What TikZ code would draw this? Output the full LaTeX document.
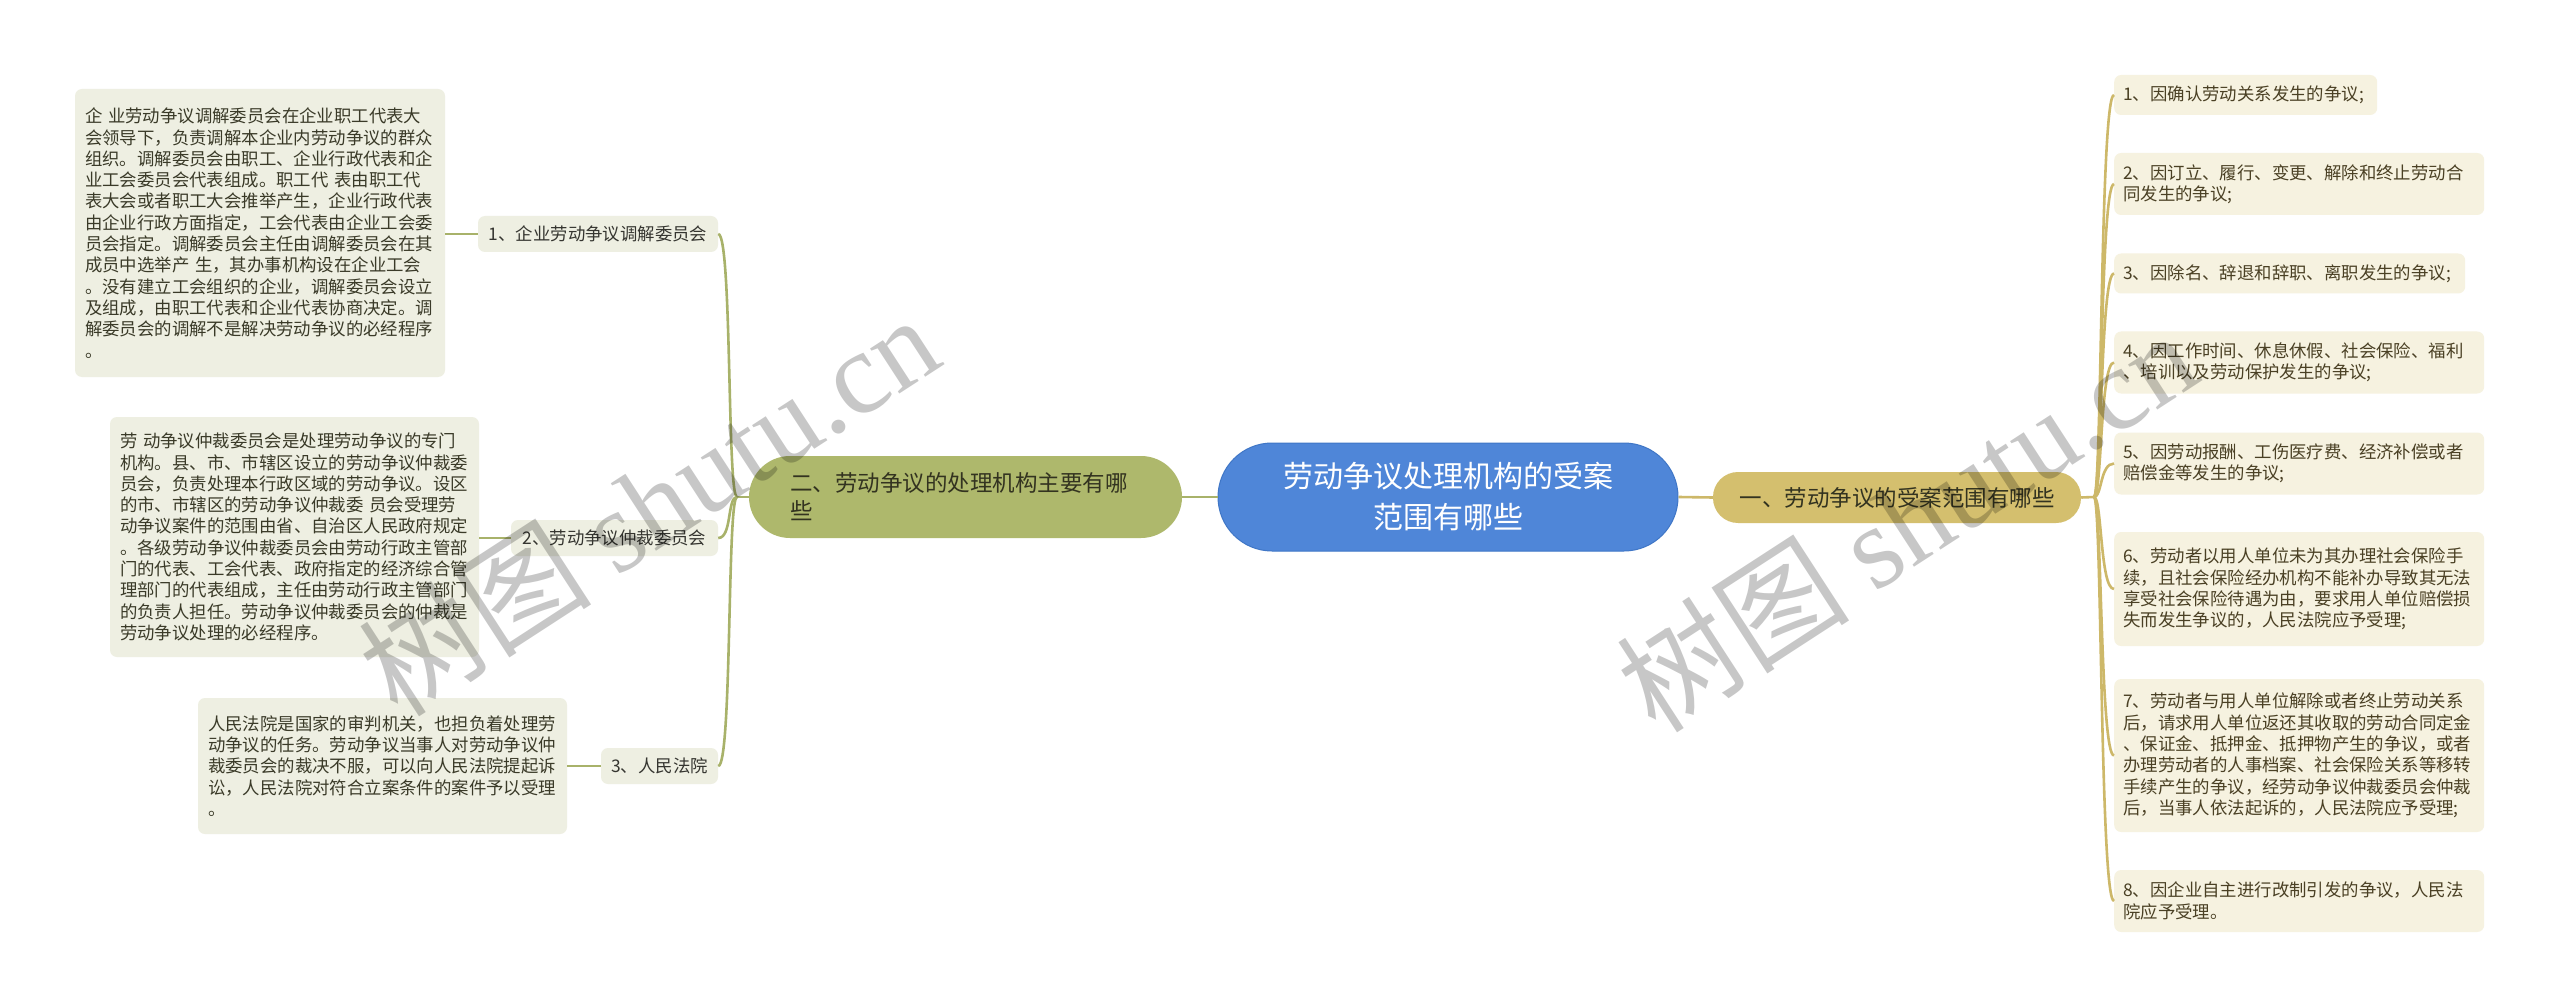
\documentclass[tikz,border=0pt]{standalone}
\usepackage{fontspec}
\setmainfont{Noto Sans CJK SC}
\newfontfamily\wmlat{Liberation Serif}
\definecolor{cblue}{HTML}{4F86D8}
\definecolor{cblueb}{HTML}{3F76C6}
\definecolor{colive}{HTML}{AEB86C}
\definecolor{cgold}{HTML}{D4BF6E}
\definecolor{lineL}{HTML}{A8B26A}
\definecolor{lineR}{HTML}{CDB869}
\definecolor{fillL}{HTML}{EEEFE2}
\definecolor{fillR}{HTML}{F6F2E0}
\definecolor{txtL}{HTML}{3A3A28}
\definecolor{txtR}{HTML}{4A4024}
\definecolor{txtM}{HTML}{333320}
\definecolor{txtS}{HTML}{353530}
\tikzset{
  central/.style={fill=cblue, draw=cblueb, line width=1pt, text=white, rounded corners=54pt, minimum width=460pt, minimum height=108pt, align=center, inner sep=0pt, font=\fontsize{30}{41}\selectfont},
  mainL/.style={fill=colive, text=txtM, rounded corners=41pt, minimum height=82pt, text width=351pt, inner xsep=41pt, inner ysep=0pt, align=left, font=\fontsize{22.5}{28}\selectfont},
  mainR/.style={fill=cgold, text=txtM, rounded corners=25pt, minimum width=368pt, minimum height=51pt, inner sep=0pt, align=center, font=\fontsize{22.5}{28}\selectfont},
  subL/.style={fill=fillL, text=txtS, rounded corners=7pt, minimum height=36pt, inner sep=0pt, align=center, font=\fontsize{17.4}{21.3}\selectfont},
  leafL/.style={fill=fillL, text=txtL, rounded corners=7pt, inner xsep=10pt, inner ysep=0pt, align=left, font=\fontsize{17.4}{21.3}\selectfont},
  leafR/.style={fill=fillR, text=txtR, rounded corners=7pt, inner xsep=9pt, inner ysep=0pt, align=left, anchor=west, font=\fontsize{17.4}{21.3}\selectfont},
  lnL/.style={draw=lineL, line width=2.6pt},
  lnR/.style={draw=lineR, line width=2.6pt},
  wm/.style={text=black, text opacity=0.22, inner sep=0pt, font=\fontsize{117}{117}\selectfont}
}
\begin{document}
\begin{tikzpicture}[x=1pt,y=-1pt]
\fill[white] (0,0) rectangle (2560,1008);
\useasboundingbox (0,0) rectangle (2560,1008);

% central and main nodes
\node[central] (c) at (1448,497) {劳动争议处理机构的受案\\范围有哪些};
\node[mainL] (l) at (965.5,497) {二、劳动争议的处理机构主要有哪\\些};
\node[mainR] (r) at (1897,497.5) {一、劳动争议的受案范围有哪些};

% left sub nodes
\node[subL, minimum width=240pt] (s1) at (598,234) {1、企业劳动争议调解委员会};
\node[subL, minimum width=207pt] (s2) at (614.5,538) {2、劳动争议仲裁委员会};
\node[subL, minimum width=117pt] (s3) at (659.5,766) {3、人民法院};

% left leaves
\node[leafL, text width=350pt, minimum height=288pt] (l1) at (260,233) {企 业劳动争议调解委员会在企业职工代表大\\会领导下，负责调解本企业内劳动争议的群众\\组织。调解委员会由职工、企业行政代表和企\\业工会委员会代表组成。职工代 表由职工代\\表大会或者职工大会推举产生，企业行政代表\\由企业行政方面指定，工会代表由企业工会委\\员会指定。调解委员会主任由调解委员会在其\\成员中选举产 生，其办事机构设在企业工会\\。没有建立工会组织的企业，调解委员会设立\\及组成，由职工代表和企业代表协商决定。调\\解委员会的调解不是解决劳动争议的必经程序\\。};
\node[leafL, text width=349pt, minimum height=240pt] (l2) at (294.5,537) {劳 动争议仲裁委员会是处理劳动争议的专门\\机构。县、市、市辖区设立的劳动争议仲裁委\\员会，负责处理本行政区域的劳动争议。设区\\的市、市辖区的劳动争议仲裁委 员会受理劳\\动争议案件的范围由省、自治区人民政府规定\\。各级劳动争议仲裁委员会由劳动行政主管部\\门的代表、工会代表、政府指定的经济综合管\\理部门的代表组成，主任由劳动行政主管部门\\的负责人担任。劳动争议仲裁委员会的仲裁是\\劳动争议处理的必经程序。};
\node[leafL, text width=349pt, minimum height=136pt] (l3) at (382.5,766) {人民法院是国家的审判机关，也担负着处理劳\\动争议的任务。劳动争议当事人对劳动争议仲\\裁委员会的裁决不服，可以向人民法院提起诉\\讼，人民法院对符合立案条件的案件予以受理\\。};

% right leaves
\node[leafR, text width=245pt, minimum height=40pt] (r1) at (2114,95) {1、因确认劳动关系发生的争议;};
\node[leafR, text width=352pt, minimum height=62pt] (r2) at (2114,184) {2、因订立、履行、变更、解除和终止劳动合\\同发生的争议;};
\node[leafR, text width=333pt, minimum height=40pt] (r3) at (2114,273.5) {3、因除名、辞退和辞职、离职发生的争议;};
\node[leafR, text width=352pt, minimum height=62pt] (r4) at (2114,362.5) {4、因工作时间、休息休假、社会保险、福利\\、培训以及劳动保护发生的争议;};
\node[leafR, text width=352pt, minimum height=62pt] (r5) at (2114,463.5) {5、因劳动报酬、工伤医疗费、经济补偿或者\\赔偿金等发生的争议;};
\node[leafR, text width=352pt, minimum height=114pt] (r6) at (2114,589) {6、劳动者以用人单位未为其办理社会保险手\\续，且社会保险经办机构不能补办导致其无法\\享受社会保险待遇为由，要求用人单位赔偿损\\失而发生争议的，人民法院应予受理;};
\node[leafR, text width=352pt, minimum height=153pt] (r7) at (2114,755.5) {7、劳动者与用人单位解除或者终止劳动关系\\后，请求用人单位返还其收取的劳动合同定金\\、保证金、抵押金、抵押物产生的争议，或者\\办理劳动者的人事档案、社会保险关系等移转\\手续产生的争议，经劳动争议仲裁委员会仲裁\\后，当事人依法起诉的，人民法院应予受理;};
\node[leafR, text width=352pt, minimum height=62pt] (r8) at (2114,901) {8、因企业自主进行改制引发的争议，人民法\\院应予受理。};

% connectors centre
\draw[lnL] (c.west) -- (l.east);
\draw[lnR] (c.east) -- (r.west);

% left bracket
\coordinate (jl) at (737,497);
\draw[lnL] (l.west) -- (jl);
\foreach \s in {s1,s2,s3} {
  \draw[lnL] (jl) .. controls +(-10,0) and +(14,0) .. (\s.east);
}
\draw[lnL] (s1.west) -- (l1.east |- s1.west);
\draw[lnL] (s2.west) -- (l2.east |- s2.west);
\draw[lnL] (s3.west) -- (l3.east |- s3.west);

% right bracket
\coordinate (jr) at (2094,497);
\draw[lnR] (r.east) -- (jr);
\foreach \s in {r1,r2,r3,r4,r5,r6,r7,r8} {
  \draw[lnR] (jr) .. controls +(8,0) and +(-14,0) .. (\s.west);
}

% watermarks
\node[wm, rotate=33] (wm1) at (648,504) {树图 {\wmlat shutu.cn}};
\node[wm, rotate=33] (wm2) at (1906,520) {树图 {\wmlat shutu.cn}};
\end{tikzpicture}
\end{document}
